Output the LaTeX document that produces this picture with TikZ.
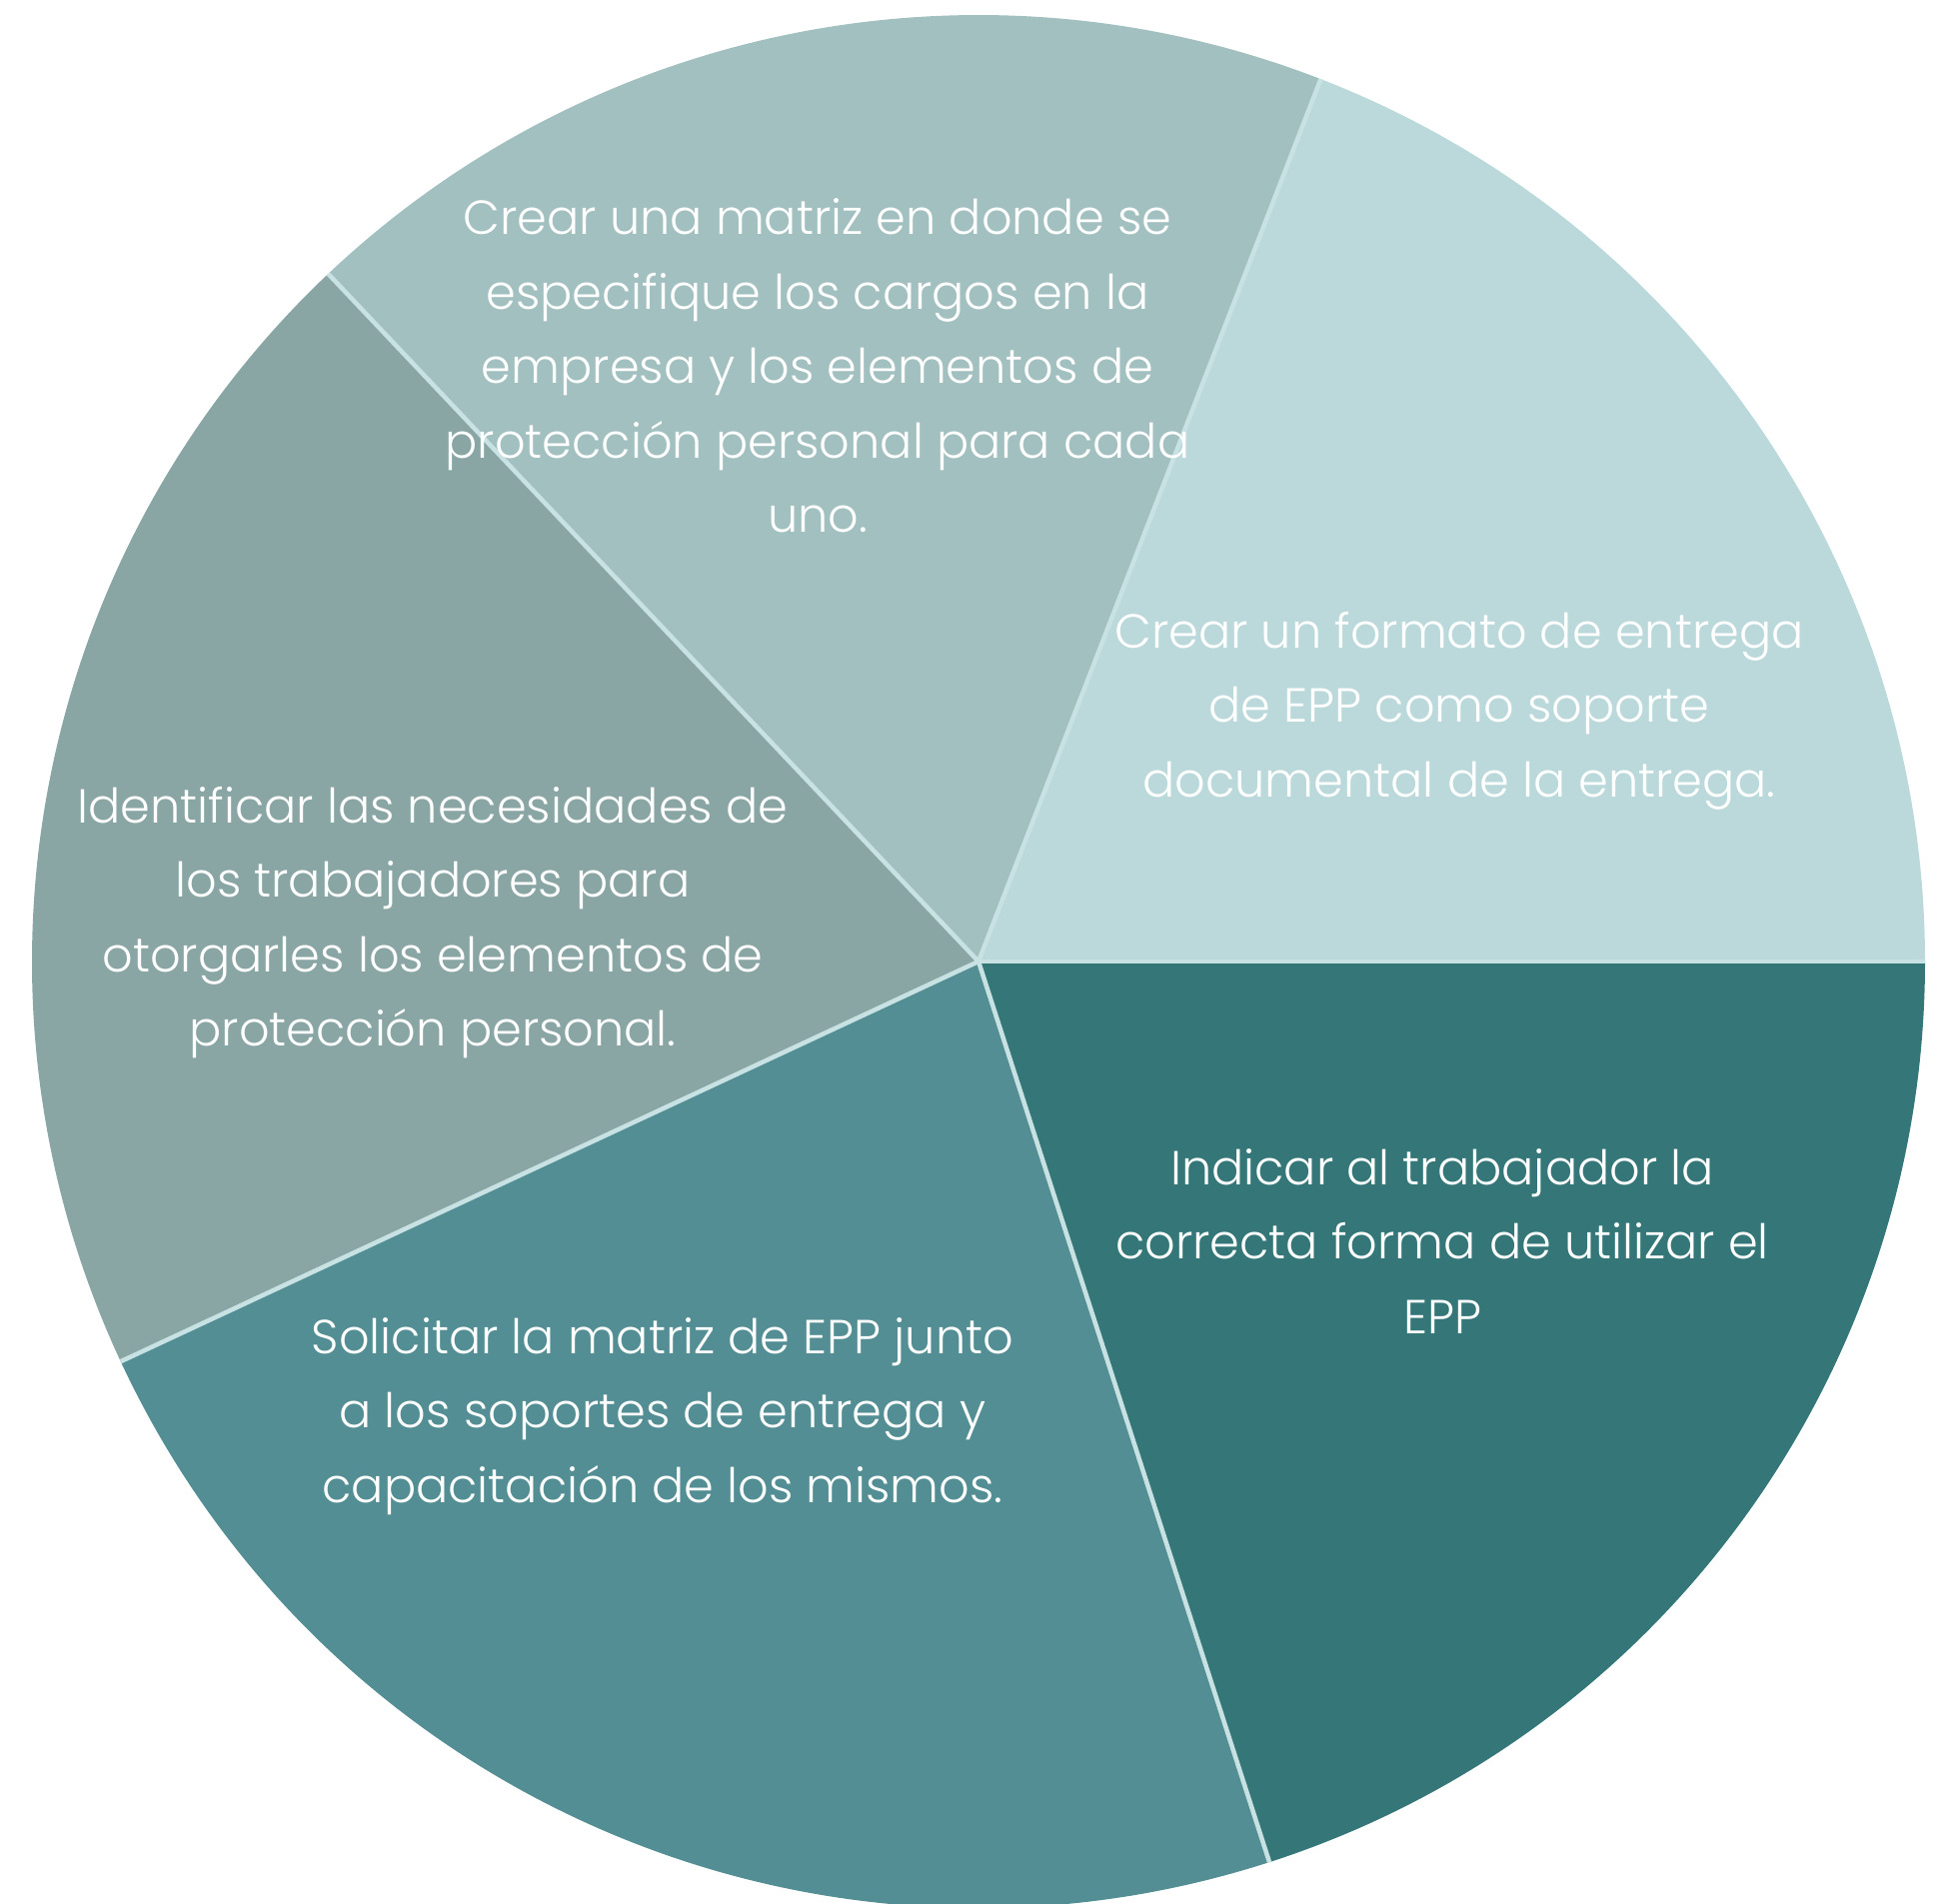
\documentclass[tikz,border=0pt]{standalone}
\usepackage{fontspec}
\setmainfont{Poppins}[UprightFont=* Light]
\usetikzlibrary{positioning}

\definecolor{sliceformato}{HTML}{BBD9DB}
\definecolor{slicematriz}{HTML}{A3C0C0}
\definecolor{sliceidentificar}{HTML}{89A6A5}
\definecolor{slicesolicitar}{HTML}{528E93}
\definecolor{sliceindicar}{HTML}{357779}
\definecolor{dividercol}{HTML}{C8E2E4}

\tikzset{
	slicelabel/.style={text=white, align=center, font=\fontsize{13.6}{21.2}\selectfont},
	divider/.style={draw=dividercol, line width=0.045cm}
}

\begin{document}
\begin{tikzpicture}
		\useasboundingbox (0,0) rectangle (19.51,19.04);
		\coordinate (O) at (9.79,9.42);
		
		% Slices
		\fill[sliceformato] (O) -- ++(0:9.47) arc (0:68.8:9.47) -- cycle;
		\fill[slicematriz] (O) -- ++(68.8:9.47) arc (68.8:133.4:9.47) -- cycle;
		\fill[sliceidentificar] (O) -- ++(133.4:9.47) arc (133.4:205:9.47) -- cycle;
		\fill[slicesolicitar] (O) -- ++(205:9.47) arc (205:287.9:9.47) -- cycle;
		\fill[sliceindicar] (O) -- ++(287.9:9.47) arc (287.9:360:9.47) -- cycle;
		
		% Dividers
		\foreach \a/\n in {0/a,68.8/b,133.4/c,205/d,287.9/e}
			\path (O) ++(\a:9.47) coordinate (rim\n);
		\foreach \n in {a,b,c,d,e}
			\draw[divider] (O) -- (rim\n);
		
		% Labels
		\node[slicelabel] (matriz) at (8.18,15.38) {Crear una matriz en donde se\\especifique los cargos en la\\empresa y los elementos de\\protección personal para cada\\uno.};
		\node[slicelabel] (formato) at (14.60,11.93) {Crear un formato de entrega\\de EPP como soporte\\documental de la entrega.};
		\node[slicelabel] (identificar) at (4.33,9.81) {Identificar las necesidades de\\los trabajadores para\\otorgarles los elementos de\\protección personal.};
		\node[slicelabel] (solicitar) at (6.63,4.87) {Solicitar la matriz de EPP junto\\a los soportes de entrega y\\capacitación de los mismos.};
		\node[slicelabel] (indicar) at (14.43,6.62) {Indicar al trabajador la\\correcta forma de utilizar el\\EPP};
	\end{tikzpicture}
\end{document}
